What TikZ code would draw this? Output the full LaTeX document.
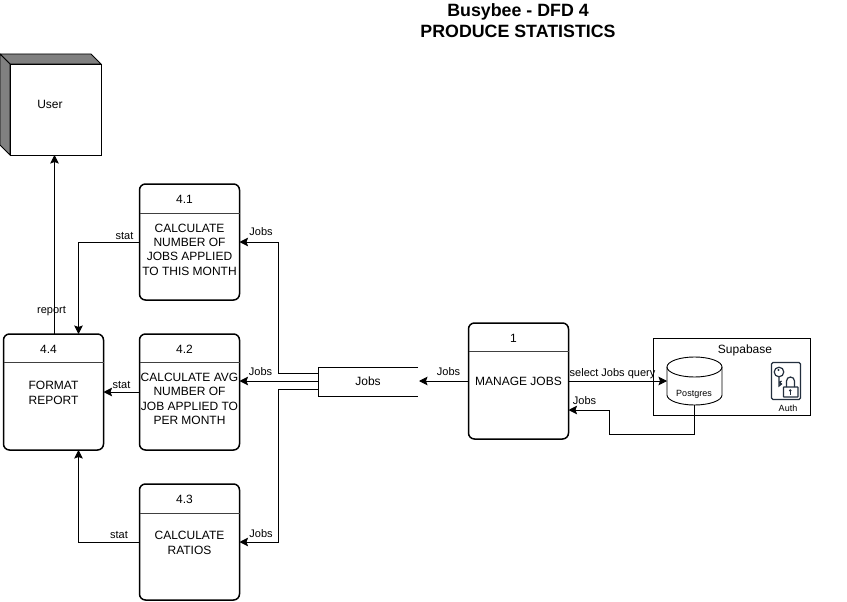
\documentclass[tikz,border=0pt]{standalone}
\usepackage{fontspec}
\setmainfont{Liberation Sans}
\usetikzlibrary{arrows.meta,calc}
\definecolor{cubegrey}{HTML}{808080}
\definecolor{authblue}{HTML}{232F3E}
\tikzset{
  x=1pt,y=-1pt,
  procbox/.style={draw=black,line width=1.5pt,rounded corners=6pt,minimum width=100pt,minimum height=116pt,inner sep=0pt,outer sep=0pt,anchor=north west,fill=white},
  head/.style={font=\fontsize{12}{14}\selectfont,anchor=center,inner sep=0pt},
  body/.style={font=\fontsize{12}{14.4}\selectfont,align=center,inner sep=0pt,anchor=center},
  lab/.style={font=\fontsize{11}{13}\selectfont,inner sep=0pt,anchor=center,text height=8pt,text depth=2.5pt},
  flow/.style={draw=black,line width=0.9pt,-{Stealth[length=8.5pt,width=8.5pt,inset=1.5pt]}},
  divider/.style={draw=black!75,line width=0.9pt}
}
\newcommand{\procnode}[7]{%
  \node[procbox] (#1) at (#2,#3) {};
  \draw[divider] ($(#1.north west)+(0,#6)$) -- ($(#1.north east)+(0,#6)$);
  \node[head] (#1h) at ($(#1.north)+(-5,15)$) {#4};
  \node[body] (#1b) at ($(#1.center)+(0,#7)$) {#5};
}
\begin{document}
\begin{tikzpicture}
\useasboundingbox (0,0) rectangle (847,602);
\fill[white] (0,0) rectangle (847,602);
% titles
\node[font=\bfseries\fontsize{17.8}{21}\selectfont,align=center,inner sep=0pt] (title) at (518,21) {Busybee - DFD 4\\PRODUCE STATISTICS};
% user cube
\fill[cubegrey,draw=black,line width=0.9pt] (0,54) -- (91,54) -- (101,64) -- (10,64) -- cycle;
\fill[cubegrey,draw=black,line width=0.9pt] (0,54) -- (10,64) -- (10,155) -- (0,145) -- cycle;
\node[draw=black,line width=0.9pt,fill=white,minimum width=91pt,minimum height=91pt,inner sep=0pt,outer sep=0pt,anchor=north west] (user) at (10,64) {};
\node[font=\fontsize{12}{14}\selectfont,inner sep=0pt] (usert) at (50,104.5) {User};
% processes
\procnode{p41}{139.5}{184}{4.1}{CALCULATE\\NUMBER OF\\JOBS APPLIED\\TO THIS MONTH}{29}{7.5}
\procnode{p42}{139.5}{334}{4.2}{CALCULATE AVG\\NUMBER OF\\JOB APPLIED TO\\PER MONTH}{28}{7}
\procnode{p43}{139.5}{484}{4.3}{CALCULATE\\RATIOS}{29}{1}
\procnode{p44}{3.5}{334}{4.4}{FORMAT\\REPORT}{28}{1}
\procnode{p1}{468.5}{323}{1}{MANAGE JOBS}{28}{0}
% data store
\node[minimum width=100pt,minimum height=29pt,inner sep=0pt,outer sep=0pt,anchor=north west,font=\fontsize{12}{14}\selectfont] (store) at (318,367) {Jobs};
\draw[draw=black,line width=0.9pt] (store.north east) -- (store.north west) -- (store.south west) -- (store.south east);
% supabase
\node[draw=black,line width=0.9pt,fill=white,minimum width=157pt,minimum height=77pt,inner sep=0pt,outer sep=0pt,anchor=north west] (supa) at (653,338) {};
\node[font=\fontsize{12}{14}\selectfont,inner sep=0pt] (supat) at (745,350) {Supabase};
% postgres
\draw[draw=black,line width=0.9pt,fill=white] (667,367) arc[start angle=180,end angle=360,x radius=27.5,y radius=10] -- (722,395) arc[start angle=0,end angle=180,x radius=27.5,y radius=10] -- cycle;
\draw[draw=black,line width=0.9pt] (667,367) arc[start angle=180,end angle=0,x radius=27.5,y radius=10];
\node[font=\fontsize{9}{11}\selectfont,inner sep=0pt] (pg) at (694,394) {Postgres};
\coordinate (pgw) at (667,381);
\coordinate (pgs) at (694.5,405);
% auth icon
\draw[authblue,line width=1.3pt,rounded corners=1.5pt,fill=white] (771.5,362.5) rectangle (800.5,399.5);
\draw[authblue,line width=1.2pt] (779,372) circle[radius=4.8];
\fill[authblue] (778.5,370) circle[radius=1.1];
\draw[authblue,line width=1.2pt] (779,376.8) -- (779,386) -- (781.5,384) -- (779.5,382.5) -- (781.5,381);
\draw[authblue,line width=1.2pt,fill=white,rounded corners=0.5pt] (783.5,387) rectangle (798,397);
\draw[authblue,line width=1.2pt] (786.5,387) -- (786.5,381) arc[start angle=180,end angle=360,radius=4] -- (794.5,387);
\fill[authblue] (790.3,390.5) circle[radius=1.4];
\draw[authblue,line width=0.9pt] (790.3,390.5) -- (790.3,394.5);
\node[font=\fontsize{9}{11}\selectfont,inner sep=0pt] (auth) at (788,408) {Auth};
% flows
\draw[flow] (p44.north -| 54.5,0) -- (user.south -| 54.5,0);
\draw[flow] (p41.west |- 0,242) -- (78.5,242) -- (p44.north -| 78.5,0);
\draw[flow] (p42.west |- 0,392) -- (p44.east |- 0,392);
\draw[flow] (p43.west |- 0,542) -- (78.5,542) -- (p44.south -| 78.5,0);
\draw[flow] (store.west |- 0,373.5) -- (278.5,373.5) -- (278.5,242) -- (p41.east |- 0,242);
\draw[flow] (store.west |- 0,381) -- (p42.east |- 0,381);
\draw[flow] (store.west |- 0,389) -- (278.5,389) -- (278.5,542) -- (p43.east |- 0,542);
\draw[flow] (p1.west |- 0,381) -- (419,381);
\draw[flow] (p1.east |- 0,381) -- (pgw);
\draw[flow] (pgs) -- (694.5,434) -- (609.5,434) -- (609.5,410) -- (p1.east |- 0,410);
% labels
\node[lab] (l1) at (124.5,236.5) {stat};
\node[lab] (l2) at (121.5,385.5) {stat};
\node[lab] (l3) at (119,535.5) {stat};
\node[lab] (l4) at (51.5,310.5) {report};
\node[lab] (l5) at (261,233) {Jobs};
\node[lab] (l6) at (260.5,373) {Jobs};
\node[lab] (l7) at (261,534.5) {Jobs};
\node[lab] (l8) at (448.5,373) {Jobs};
\node[lab] (l9) at (612.5,374) {select Jobs query};
\node[lab] (l10) at (584.5,402) {Jobs};
\end{tikzpicture}
\end{document}
